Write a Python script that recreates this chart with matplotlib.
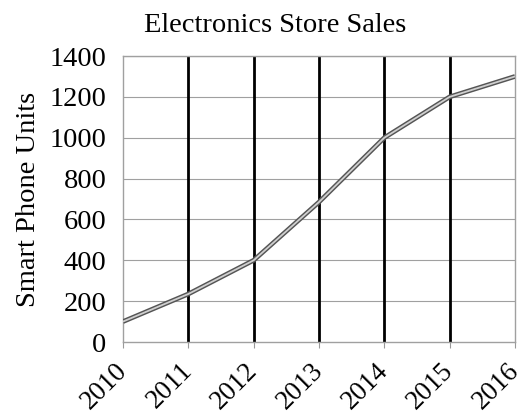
import matplotlib
matplotlib.use("Agg")
import matplotlib.pyplot as plt

years = ["2010", "2011", "2012", "2013", "2014", "2015", "2016"]
units = [100, 235, 400, 685, 1000, 1200, 1300]
y_ticks = [0, 200, 400, 600, 800, 1000, 1200, 1400]

plt.rcParams["font.family"] = ["Liberation Serif", "DejaVu Serif"]

fig = plt.figure(figsize=(5.27, 4.19), dpi=100)
ax = fig.add_axes([123 / 527, 1 - 342 / 419, (515 - 123) / 527, (342 - 56) / 419])

x = list(range(len(years)))

# horizontal grid: thin grey
for v in y_ticks[1:]:
    ax.axhline(v, color="#a0a0a0", lw=0.8, zorder=1)
# vertical grid: heavy black
for xi in x[1:-1]:
    ax.axvline(xi, color="black", lw=2.0, zorder=1)

# double-stroke grey line
ax.plot(x, units, color="#555555", lw=3.4, solid_capstyle="butt", zorder=3)
ax.plot(x, units, color="#cfcfcf", lw=1.3, solid_capstyle="butt", zorder=4)

ax.set_xlim(0, len(years) - 1)
ax.set_ylim(0, 1400)
ax.set_yticks(y_ticks)
ax.set_xticks(x)
ax.set_xticklabels(years, rotation=45, ha="right", va="center",
                   rotation_mode="anchor", fontsize=19.5)
ax.tick_params(axis="y", labelsize=20.5, length=0, pad=12)
ax.tick_params(axis="x", length=4, color="#999999", pad=14)

for s in ax.spines.values():
    s.set_color("#a0a0a0")
    s.set_linewidth(1.0)

ax.set_ylabel("Smart Phone Units", fontsize=20.5, labelpad=6)
fig.text(275 / 527, 1 - 32 / 419, "Electronics Store Sales", fontsize=20.5,
         ha="center", va="baseline")

fig.savefig("out.png", dpi=100)
